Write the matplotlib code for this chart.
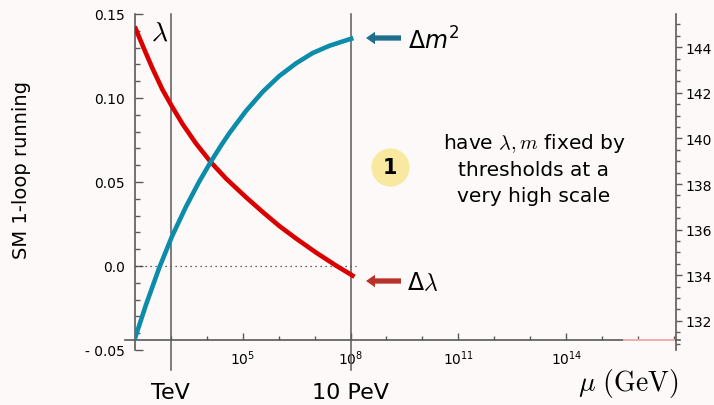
import numpy as np
import matplotlib
matplotlib.use('Agg')
import matplotlib.pyplot as plt
from matplotlib.ticker import FixedLocator, FixedFormatter, NullFormatter, MultipleLocator

# running of lambda (left axis): log10(mu/GeV) vs value
lam_logmu = [2.0, 2.26, 2.49, 2.77, 3.04, 3.33, 3.70, 4.12, 4.54, 5.09,
             5.56, 6.02, 6.49, 7.04, 7.60, 8.11]
lam_vals = [0.1425, 0.1292, 0.1178, 0.1050, 0.0948, 0.0845, 0.0730, 0.0617, 0.0520, 0.0410,
            0.0321, 0.0238, 0.0163, 0.0080, 0.0002, -0.0064]

# running of m (right axis, GeV)
m_logmu = [2.0, 2.31, 2.68, 3.04, 3.42, 3.79, 4.12, 4.40, 4.63, 5.09,
           5.56, 6.02, 6.49, 6.95, 7.42, 7.97, 8.08]
m_vals = [131.2, 132.69, 134.32, 135.72, 136.99, 138.10, 138.99, 139.69, 140.23, 141.20,
          142.05, 142.74, 143.30, 143.75, 144.07, 144.35, 144.40]

# faint red piece lying on the axis at the far right
faint_logmu = [15.6, 17.0]

# thresholds marked by vertical lines
thr_logmu = [3, 8]
thr_labels = ['TeV', '10 PeV']

yticks_left = [-0.05, 0.0, 0.05, 0.10, 0.15]
yticklabels_left = ['- 0.05', '0.0', '0.05', '0.10', '0.15']
yticks_right = [132, 134, 136, 138, 140, 142, 144]
xmajor_exp = [5, 8, 11, 14]

bg = '#fdf9f8'
red = '#da0000'
blue = '#0b8cab'
grey = '#5a5a5a'

W, H = 714, 406
def fx(px):
    return px / W
def fy(py):
    return 1 - py / H

fig = plt.figure(figsize=(7.14, 4.06), dpi=100, facecolor=bg)
ax = fig.add_axes([0.1887, 0.1355, 0.7581, 0.8276])
ax.set_facecolor(bg)
ax.set_xscale('log')
ax.set_xlim(1e2, 10**17.05)
ax.set_ylim(-0.05, 0.15)

ax2 = ax.twinx()
ax2.set_ylim(130.72, 145.46)

# curves
ax.plot(10**np.array(lam_logmu), lam_vals, color=red, lw=3.3, solid_capstyle='butt',
        solid_joinstyle='round', zorder=5)
ax2.plot(10**np.array(m_logmu), m_vals, color=blue, lw=3.3, solid_capstyle='butt',
         solid_joinstyle='round', zorder=5)
ax.plot(10**np.array(faint_logmu), [-0.044, -0.044], color='#f3b0b0', lw=1.4, zorder=6, clip_on=False)

# vertical threshold lines and dotted zero line
for e in thr_logmu:
    ax.plot([10**e, 10**e], [-0.062, 0.15], color=grey, lw=1.1, clip_on=False, zorder=3)
ax.plot([1e2, 10**8.16], [0, 0], color='#333333', lw=0.9, ls=(0, (1, 3)), zorder=2)

# spines
for s in ['top', 'right']:
    ax.spines[s].set_visible(False)
for s in ['top', 'left', 'bottom']:
    ax2.spines[s].set_visible(False)
ax.spines['bottom'].set_position(('data', -0.044))
ax.spines['bottom'].set_bounds(10**1.73, 10**17.15)
for sp in [ax.spines['left'], ax.spines['bottom'], ax2.spines['right']]:
    sp.set_color(grey)
    sp.set_linewidth(1.2)

# x ticks
ax.xaxis.set_major_locator(FixedLocator([10.0**e for e in xmajor_exp]))
ax.xaxis.set_minor_locator(FixedLocator([10.0**e for e in range(3, 18) if e not in xmajor_exp]))
ax.xaxis.set_minor_formatter(NullFormatter())
ax.tick_params(axis='x', which='major', direction='in', length=5, width=1, color=grey, labelsize=10, pad=6)
ax.tick_params(axis='x', which='minor', direction='in', length=3, width=1, color=grey)

# left y ticks
ax.yaxis.set_major_locator(FixedLocator(yticks_left))
ax.yaxis.set_major_formatter(FixedFormatter(yticklabels_left))
ax.yaxis.set_minor_locator(MultipleLocator(0.01))
ax.tick_params(axis='y', which='major', direction='in', length=6, width=1, color=grey, labelsize=10, pad=7)
ax.tick_params(axis='y', which='minor', direction='in', length=3.5, width=1, color=grey)

# right y ticks
ax2.yaxis.set_major_locator(FixedLocator(yticks_right))
ax2.yaxis.set_minor_locator(MultipleLocator(0.5))
ax2.tick_params(axis='y', which='major', direction='out', length=4, width=1, color=grey, labelsize=10, pad=3)
ax2.tick_params(axis='y', which='minor', direction='out', length=3, width=1, color=grey)

# texts
fig.text(fx(22), fy(170), 'SM 1-loop running', rotation=90, fontsize=14, ha='center', va='center')
fig.text(fx(160), fy(33), r'$\lambda$', fontsize=20, math_fontfamily='cm', ha='center', va='center')
fig.text(fx(408), fy(41), r'Δ$m^2$', fontsize=17, math_fontfamily='dejavusans', ha='left', va='center')
fig.text(fx(407), fy(283), r'Δ$\lambda$', fontsize=17, math_fontfamily='cm', ha='left', va='center')
for e, lab in zip(thr_logmu, thr_labels):
    x_disp = ax.transData.transform((10**e, 0))[0]
    fig.text(x_disp / W, fy(393), lab, fontsize=16, ha='center', va='center')
fig.text(fx(628), fy(384), r'$\mu\ (\mathrm{GeV})$', fontsize=20, math_fontfamily='cm', ha='center', va='center')

fig.text(fx(534), fy(169), 'have $\\lambda, m$ fixed by\nthresholds at a\nvery high scale',
         fontsize=14.5, math_fontfamily='cm', ha='center', va='center', linespacing=1.45)

# numbered bubble
circ = plt.Line2D([fx(390)], [fy(168)], marker='o', markersize=27.5, color='#f9e9a0',
                  markeredgecolor='none', transform=fig.transFigure)
fig.add_artist(circ)
fig.text(fx(390), fy(168), '1', fontsize=15, fontweight='bold', ha='center', va='center')

# arrows
arrow_kw = dict(arrowstyle='simple,head_length=0.65,head_width=0.9,tail_width=0.38',
                mutation_scale=10, shrinkA=0, shrinkB=0, lw=0)
ax.annotate('', xy=(fx(366), fy(39)), xytext=(fx(401), fy(39)), xycoords='figure fraction',
            textcoords='figure fraction', arrowprops=dict(color='#1d6f8c', **arrow_kw))
ax.annotate('', xy=(fx(366), fy(282)), xytext=(fx(401), fy(282)), xycoords='figure fraction',
            textcoords='figure fraction', arrowprops=dict(color='#b8322a', **arrow_kw))

fig.savefig('out.png', dpi=100, facecolor=bg)
